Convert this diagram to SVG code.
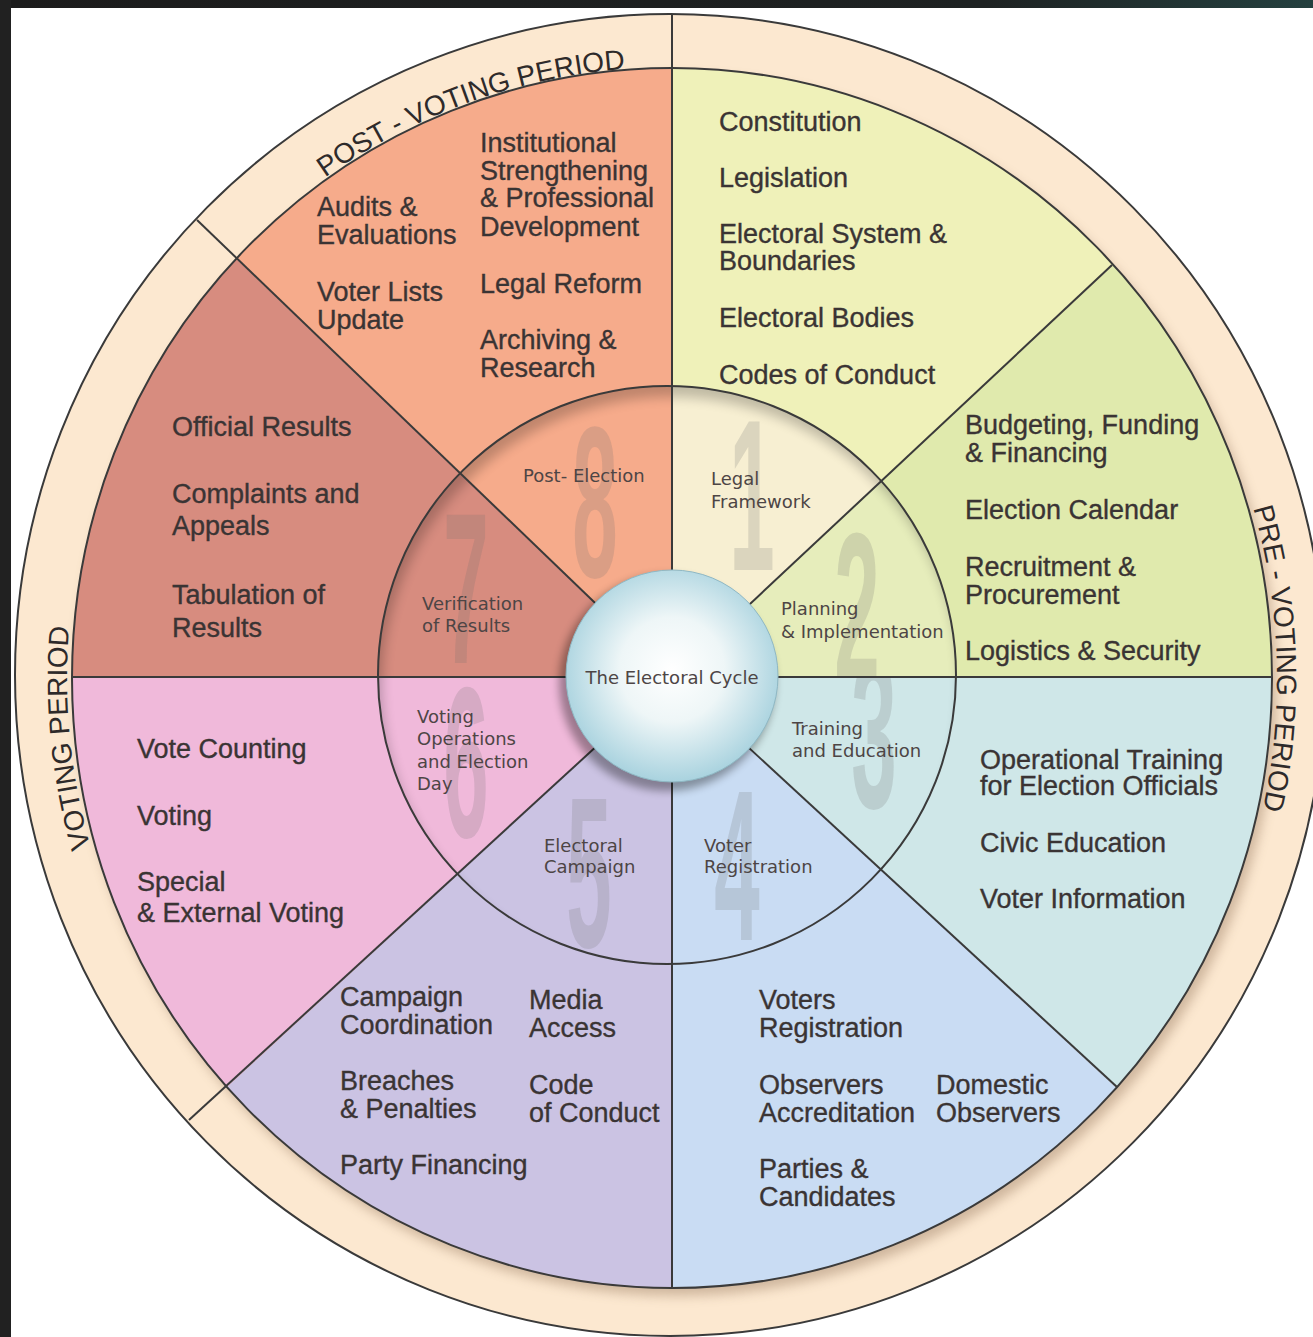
<svg xmlns="http://www.w3.org/2000/svg" width="1313" height="1337" viewBox="0 0 1313 1337">
<defs>
<style>
.ln{stroke:#3a3a3a;stroke-width:2;fill:none}
.item{font-family:"Liberation Sans",Arial,sans-serif;font-size:27px;fill:#3a3434;stroke:#3a3434;stroke-width:0.35}
.lab{font-family:"DejaVu Sans",Verdana,sans-serif;font-size:18px;fill:#4d4545}
.num{font-family:"Liberation Sans",Arial,sans-serif;font-weight:bold;font-size:215px;fill:#6f6f6f;fill-opacity:0.2;text-anchor:middle}
.ring{font-family:"Liberation Sans",Arial,sans-serif;font-size:28px;fill:#2e2a2a}
</style>
<linearGradient id="topband" x1="0" y1="0" x2="1" y2="0">
<stop offset="0" stop-color="#1c1c1c"/><stop offset="0.75" stop-color="#1e2222"/><stop offset="1" stop-color="#24403f"/>
</linearGradient>
<radialGradient id="sphere" cx="0.5" cy="0.47" r="0.55">
<stop offset="0" stop-color="#ffffff"/><stop offset="0.45" stop-color="#eef6f7"/><stop offset="1" stop-color="#a4d0dd"/>
</radialGradient>
<filter id="blur6" x="-20%" y="-20%" width="140%" height="140%"><feGaussianBlur stdDeviation="6"/></filter>
<filter id="blur4" x="-20%" y="-20%" width="140%" height="140%"><feGaussianBlur stdDeviation="4"/></filter>
<clipPath id="disk"><ellipse cx="672" cy="678" rx="600" ry="610"/></clipPath>
<clipPath id="inner"><circle cx="667" cy="675" r="289"/></clipPath>
<clipPath id="w1"><polygon points="672,677 672,-223 1330,63"/></clipPath>
<clipPath id="w2"><polygon points="672,677 1330,63 1572,677"/></clipPath>
<clipPath id="w3"><polygon points="672,677 1572,677 1333,1288"/></clipPath>
<clipPath id="w4"><polygon points="672,677 1333,1288 672,1577"/></clipPath>
<clipPath id="w5"><polygon points="672,677 672,1577 10,1287"/></clipPath>
<clipPath id="w6"><polygon points="672,677 10,1287 -228,677"/></clipPath>
<clipPath id="w7"><polygon points="672,677 -228,677 23,54"/></clipPath>
<clipPath id="w8"><polygon points="672,677 23,54 672,-223"/></clipPath>
<path id="arcTop" d="M325,177.5 A605,611 0 0 1 777,76.3"/>
<path id="arcLeft" d="M90.6,847 A605,611 0 0 1 93.3,500"/>
<path id="arcRight" d="M1253.1,508 A605,611 0 0 1 1235.7,900"/>
</defs>

<rect x="0" y="0" width="1313" height="1337" fill="#ffffff"/>
<rect x="0" y="0" width="1313" height="8" fill="url(#topband)"/>
<rect x="0" y="0" width="11" height="1337" fill="#212121"/>

<g id="outer-ring">
<ellipse cx="670" cy="675" rx="655" ry="661" fill="#fce8d0" stroke="#3a3a3a" stroke-width="2"/>
<ellipse cx="677" cy="686" rx="600" ry="610" fill="#7a5a40" opacity="0.35" filter="url(#blur6)"/>
</g>

<g id="seg-1">
<polygon points="672,677 672,-223 1330,63" fill="#eff1b9" clip-path="url(#disk)"/>
<g clip-path="url(#inner)"><polygon points="672,677 672,-223 1330,63" fill="#f7efd2"/></g>
<g clip-path="url(#w1)"><g clip-path="url(#inner)"><text class="num" transform="translate(752,570) scale(0.38,1)">1</text></g></g>
<text class="lab"><tspan x="711" y="485">Legal</tspan><tspan x="711" y="508">Framework</tspan></text>
<text class="item"><tspan x="719" y="131">Constitution</tspan><tspan x="719" y="187">Legislation</tspan><tspan x="719" y="243">Electoral System &amp;</tspan><tspan x="719" y="270">Boundaries</tspan><tspan x="719" y="327">Electoral Bodies</tspan><tspan x="719" y="384">Codes of Conduct</tspan></text>
</g>

<g id="seg-2">
<polygon points="672,677 1330,63 1572,677" fill="#e0eaad" clip-path="url(#disk)"/>
<g clip-path="url(#inner)"><polygon points="672,677 1330,63 1572,677" fill="#e6edbb"/></g>
<g clip-path="url(#w2)"><g clip-path="url(#inner)"><text class="num" transform="translate(857,683) scale(0.38,1)">2</text></g></g>
<text class="lab"><tspan x="781" y="615">Planning</tspan><tspan x="781" y="638">&amp; Implementation</tspan></text>
<text class="item"><tspan x="965" y="434">Budgeting, Funding</tspan><tspan x="965" y="462">&amp; Financing</tspan><tspan x="965" y="519">Election Calendar</tspan><tspan x="965" y="576">Recruitment &amp;</tspan><tspan x="965" y="604">Procurement</tspan><tspan x="965" y="660">Logistics &amp; Security</tspan></text>
</g>

<g id="seg-3">
<polygon points="672,677 1572,677 1333,1288" fill="#cfe7e8" clip-path="url(#disk)"/>
<g clip-path="url(#w3)"><g clip-path="url(#inner)"><text class="num" transform="translate(874,808) scale(0.38,1)">3</text></g></g>
<text class="lab"><tspan x="792" y="735">Training</tspan><tspan x="792" y="757">and Education</tspan></text>
<text class="item"><tspan x="980" y="769">Operational Training</tspan><tspan x="980" y="795">for Election Officials</tspan><tspan x="980" y="852">Civic Education</tspan><tspan x="980" y="908">Voter Information</tspan></text>
</g>

<g id="seg-4">
<polygon points="672,677 1333,1288 672,1577" fill="#c9dcf3" clip-path="url(#disk)"/>
<g clip-path="url(#w4)"><g clip-path="url(#inner)"><text class="num" transform="translate(737,940) scale(0.38,1)">4</text></g></g>
<text class="lab"><tspan x="704" y="852">Voter</tspan><tspan x="704" y="873">Registration</tspan></text>
<text class="item"><tspan x="759" y="1009">Voters</tspan><tspan x="759" y="1037">Registration</tspan><tspan x="759" y="1094">Observers</tspan><tspan x="759" y="1122">Accreditation</tspan><tspan x="936" y="1094">Domestic</tspan><tspan x="936" y="1122">Observers</tspan><tspan x="759" y="1178">Parties &amp;</tspan><tspan x="759" y="1206">Candidates</tspan></text>
</g>

<g id="seg-5">
<polygon points="672,677 672,1577 10,1287" fill="#cbc3e3" clip-path="url(#disk)"/>
<g clip-path="url(#w5)"><g clip-path="url(#inner)"><text class="num" transform="translate(589,947) scale(0.38,1)">5</text></g></g>
<text class="lab"><tspan x="544" y="852">Electoral</tspan><tspan x="544" y="873">Campaign</tspan></text>
<text class="item"><tspan x="340" y="1006">Campaign</tspan><tspan x="340" y="1034">Coordination</tspan><tspan x="529" y="1009">Media</tspan><tspan x="529" y="1037">Access</tspan><tspan x="340" y="1090">Breaches</tspan><tspan x="340" y="1118">&amp; Penalties</tspan><tspan x="529" y="1094">Code</tspan><tspan x="529" y="1122">of Conduct</tspan><tspan x="340" y="1174">Party Financing</tspan></text>
</g>

<g id="seg-6">
<polygon points="672,677 10,1287 -228,677" fill="#f0b9da" clip-path="url(#disk)"/>
<g clip-path="url(#w6)"><g clip-path="url(#inner)"><text class="num" transform="translate(466,837) scale(0.38,1)">6</text></g></g>
<text class="lab"><tspan x="417" y="723">Voting</tspan><tspan x="417" y="745">Operations</tspan><tspan x="417" y="768">and Election</tspan><tspan x="417" y="790">Day</tspan></text>
<text class="item"><tspan x="137" y="758">Vote Counting</tspan><tspan x="137" y="825">Voting</tspan><tspan x="137" y="891">Special</tspan><tspan x="137" y="922">&amp; External Voting</tspan></text>
</g>

<g id="seg-7">
<polygon points="672,677 -228,677 23,54" fill="#d78c7f" clip-path="url(#disk)"/>
<g clip-path="url(#w7)"><g clip-path="url(#inner)"><text class="num" transform="translate(466,663) scale(0.38,1)">7</text></g></g>
<text class="lab"><tspan x="422" y="610">Verification</tspan><tspan x="422" y="632">of Results</tspan></text>
<text class="item"><tspan x="172" y="436">Official Results</tspan><tspan x="172" y="503">Complaints and</tspan><tspan x="172" y="535">Appeals</tspan><tspan x="172" y="604">Tabulation of</tspan><tspan x="172" y="637">Results</tspan></text>
</g>

<g id="seg-8">
<polygon points="672,677 23,54 672,-223" fill="#f6ab8b" clip-path="url(#disk)"/>
<g clip-path="url(#w8)"><g clip-path="url(#inner)"><text class="num" transform="translate(595,577) scale(0.38,1)">8</text></g></g>
<text class="lab"><tspan x="523" y="482">Post- Election</tspan></text>
<text class="item"><tspan x="480" y="152">Institutional</tspan><tspan x="480" y="180">Strengthening</tspan><tspan x="480" y="207">&amp; Professional</tspan><tspan x="480" y="236">Development</tspan><tspan x="317" y="216">Audits &amp;</tspan><tspan x="317" y="244">Evaluations</tspan><tspan x="317" y="301">Voter Lists</tspan><tspan x="317" y="329">Update</tspan><tspan x="480" y="293">Legal Reform</tspan><tspan x="480" y="349">Archiving &amp;</tspan><tspan x="480" y="377">Research</tspan></text>
</g>

<g id="inner-shadow" clip-path="url(#inner)">
<circle cx="671" cy="686" r="302" fill="none" stroke="#000000" stroke-width="26" opacity="0.22" filter="url(#blur6)"/>
</g>

<g id="connectors">
<ellipse cx="672" cy="678" rx="600" ry="610" class="ln" stroke-width="1.6"/>
<circle cx="667" cy="675" r="289" class="ln"/>
<path class="ln" d="M672,14 V677"/>
<path class="ln" d="M672,677 V1288"/>
<path class="ln" d="M72,677 H1272"/>
<path class="ln" d="M672,677 L1112,265"/>
<path class="ln" d="M672,677 L1117,1087"/>
<path class="ln" d="M672,677 L197,220"/>
<path class="ln" d="M672,677 L189,1120"/>
</g>

<g id="period-labels">
<text class="ring"><textPath href="#arcTop">POST - VOTING PERIOD</textPath></text>
<text class="ring"><textPath href="#arcLeft">VOTING PERIOD</textPath></text>
<text class="ring"><textPath href="#arcRight">PRE - VOTING PERIOD</textPath></text>
</g>

<g id="center">
<circle cx="667" cy="683" r="108" fill="#000000" opacity="0.35" filter="url(#blur4)"/>
<circle cx="672" cy="676" r="106" fill="url(#sphere)" stroke="#8fb8c4" stroke-width="1"/>
<text class="lab" x="672" y="684" text-anchor="middle">The Electoral Cycle</text>
</g>
</svg>
